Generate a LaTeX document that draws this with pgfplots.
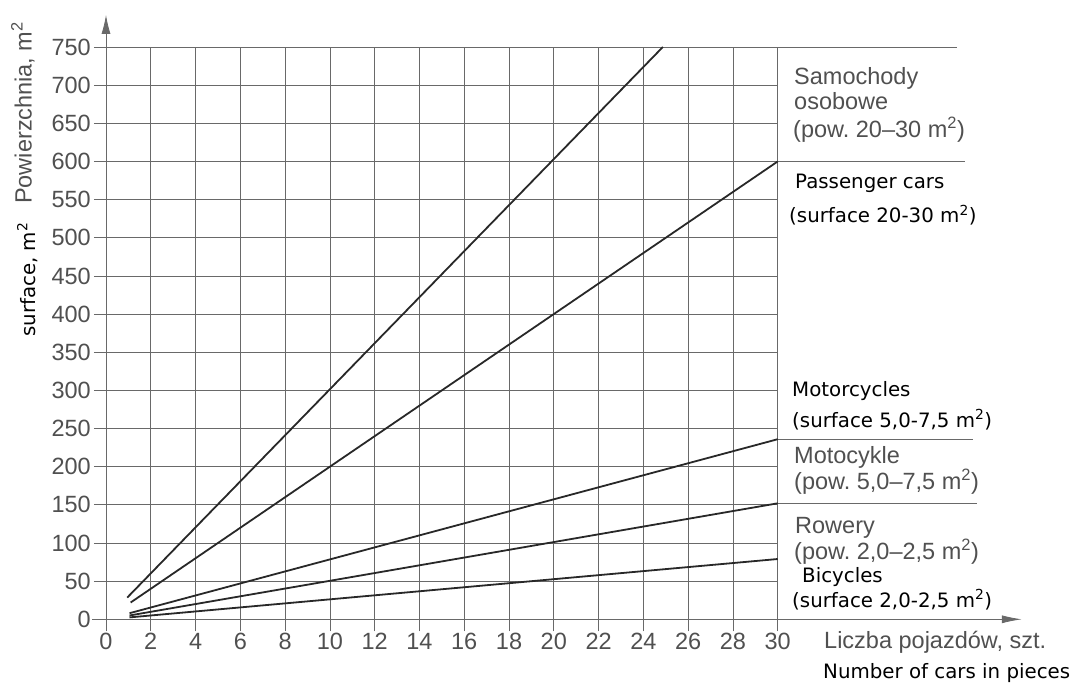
\documentclass[border=0pt]{standalone}
\usepackage{fontspec}
\setmainfont{Liberation Sans}
\newfontfamily\dv{DejaVu Sans}
\usepackage{pgfplots}
\pgfplotsset{compat=1.18}
\usetikzlibrary{arrows.meta}
\definecolor{gtxt}{RGB}{80,80,80}
\definecolor{gridc}{RGB}{105,105,105}
\definecolor{linec}{RGB}{40,40,40}
\newcommand{\gfont}{\fontsize{23.5}{26}\selectfont\color{gtxt}}
\newcommand{\bfontx}{\dv\fontsize{19.8}{22}\selectfont\color{black}}
\frenchspacing
\begin{document}
\begin{tikzpicture}
\path[use as bounding box] (0pt,0pt) rectangle (1075pt,682pt);
\begin{axis}[
  at={(106pt,62.7pt)}, anchor=south west,
  scale only axis, width=671.7pt, height=572.3pt,
  xmin=0, xmax=30, ymin=0, ymax=750,
  xtick={0,2,...,30}, ytick={0,50,...,750},
  grid=major, grid style={gridc, line width=0.8pt},
  axis line style={draw=none},
  tick pos=left, tick align=outside, major tick length=12pt,
  tick style={gridc, line width=0.8pt},
  tick label style={font=\fontsize{23.5}{26}\selectfont, text=gtxt},
  /pgf/number format/assume math mode=true,
  /pgf/number format/1000 sep={},
  yticklabel style={inner sep=3pt},
  xticklabel style={inner sep=2pt},
  clip=false,
]
% data lines
\addplot[linec, line width=1.8pt] coordinates {(0.95,28.5) (24.87,750)};
\addplot[linec, line width=1.8pt] coordinates {(1.1,22) (30,600)};
\addplot[linec, line width=1.8pt] coordinates {(1.05,8) (30,236)};
\addplot[linec, line width=1.8pt] coordinates {(1.05,5) (30,152)};
\addplot[linec, line width=1.8pt] coordinates {(1.05,2.5) (30,79)};
% separator lines to the right of the chart
\addplot[gridc, line width=0.8pt] coordinates {(30,750) (38.0,750)};
\addplot[gridc, line width=0.8pt] coordinates {(30,600) (38.37,600)};
\addplot[gridc, line width=0.8pt] coordinates {(30,236) (38.72,236)};
\addplot[gridc, line width=0.8pt] coordinates {(30,152) (38.9,152)};
% axes with arrows
\draw[gridc, line width=0.8pt, -{Latex[length=20pt,width=8pt]}] (axis cs:-0.625,0) -- (axis cs:40.9,0);
\draw[gridc, line width=0.8pt, -{Latex[length=19pt,width=9pt]}] (axis cs:0,-10) -- (axis cs:0,792);
\end{axis}
% y-axis titles
\node[rotate=90, anchor=base west, inner sep=0pt, font=\gfont] at (31.7pt,478pt) {Powierzchnia, m\textsuperscript{2}};
\node[rotate=90, anchor=base west, inner sep=0pt, font=\bfontx] at (35pt,345pt) {surface, m\textsuperscript{2}};
% right-side labels (grey, original)
\node[anchor=base west, inner sep=0pt, font=\gfont] at (794pt,597.3pt) {Samochody};
\node[anchor=base west, inner sep=0pt, font=\gfont] at (794pt,572pt) {osobowe};
\node[anchor=base west, inner sep=0pt, font=\gfont] at (793pt,544.7pt) {(pow. 20–30 m\textsuperscript{2})};
\node[anchor=base west, inner sep=0pt, font=\gfont] at (794pt,218.7pt) {Motocykle};
\node[anchor=base west, inner sep=0pt, font=\gfont] at (794pt,192.7pt) {(pow. 5,0–7,5 m\textsuperscript{2})};
\node[anchor=base west, inner sep=0pt, font=\gfont] at (795pt,148pt) {Rowery};
\node[anchor=base west, inner sep=0pt, font=\gfont] at (794pt,122.7pt) {(pow. 2,0–2,5 m\textsuperscript{2})};
\node[anchor=base west, inner sep=0pt, font=\gfont] at (824pt,33.7pt) {Liczba pojazdów, szt.};
% right-side labels (black, English)
\node[anchor=base west, inner sep=0pt, font=\bfontx] at (795pt,493.7pt) {Passenger cars};
\node[anchor=base west, inner sep=0pt, font=\bfontx] at (789pt,459.3pt) {(surface 20-30 m\textsuperscript{2})};
\node[anchor=base west, inner sep=0pt, font=\bfontx] at (792pt,285.3pt) {Motorcycles};
\node[anchor=base west, inner sep=0pt, font=\bfontx] at (792pt,254.7pt) {(surface 5,0-7,5 m\textsuperscript{2})};
\node[anchor=base west, inner sep=0pt, font=\bfontx] at (802pt,99.3pt) {Bicycles};
\node[anchor=base west, inner sep=0pt, font=\bfontx] at (792pt,74.7pt) {(surface 2,0-2,5 m\textsuperscript{2})};
\node[anchor=base west, inner sep=0pt, font=\bfontx] at (823pt,3.7pt) {Number of cars in pieces};
\end{tikzpicture}
\end{document}
